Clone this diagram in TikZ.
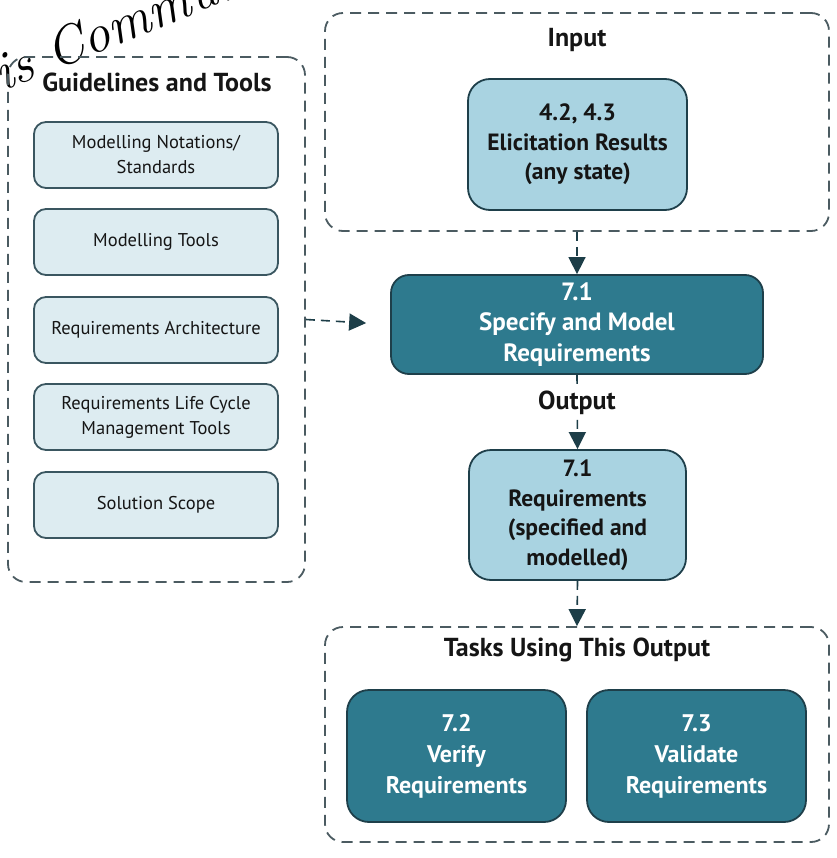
\documentclass[tikz,border=0pt]{standalone}
\usepackage{fontspec}
\setmainfont{PT Sans}
\usetikzlibrary{arrows.meta}
\definecolor{teal}{HTML}{2E7A8E}
\definecolor{tealline}{HTML}{1E3F4A}
\definecolor{lightblue}{HTML}{A9D3E1}
\definecolor{toolfill}{HTML}{DDECF1}
\definecolor{boxline}{HTML}{3A5660}
\definecolor{dashline}{HTML}{4B5B61}
\definecolor{arrowcol}{HTML}{1D3E48}
\definecolor{textdark}{HTML}{151515}
\tikzset{
  container/.style={draw=dashline, line width=1.8pt, dash pattern=on 11pt off 7pt, rounded corners=18pt},
  tool/.style={draw=boxline, fill=toolfill, line width=1.8pt, rounded corners=12pt, minimum width=244pt, minimum height=66pt, align=center, text=textdark, font=\fontsize{18.5}{25}\selectfont},
  lightbox/.style={draw=tealline, fill=lightblue, line width=1.8pt, rounded corners=22pt, align=center, text=textdark, font=\bfseries\fontsize{23.5}{29.5}\selectfont},
  darkbox/.style={draw=tealline, fill=teal, line width=1.8pt, rounded corners=18pt, align=center, text=white, font=\bfseries\fontsize{24}{31}\selectfont},
  title/.style={text=textdark, font=\bfseries\fontsize{26}{30}\selectfont},
  conn/.style={draw=arrowcol, line width=1.6pt, dash pattern=on 9pt off 6pt, -{Triangle[width=17pt,length=17pt]}},
}
\begin{document}
\begin{tikzpicture}[x=1pt,y=1pt]
\useasboundingbox (0,0) rectangle (836,-858);
% watermark
\begin{scope}
\clip (0,0) rectangle (836,-858);
\node[anchor=base west, rotate=22, inner sep=0pt, font=\itshape\fontsize{54}{54}\selectfont, text=black] (wm) at (-18,-100) {\fontspec{Latin Modern Roman}sis Community};
\end{scope}
% containers
\node[container, minimum width=297pt, minimum height=525pt] (guide) at (156.5,-319.5) {};
\node[container, minimum width=504pt, minimum height=218pt] (input) at (577,-122) {};
\node[container, minimum width=504pt, minimum height=215pt] (tasks) at (577,-734.5) {};
% titles
\node[title] (tguide) at (157,-82) {Guidelines and Tools};
\node[title] (tinput) at (577,-40) {Input};
\node[title] (ttasks) at (577,-650) {Tasks Using This Output};
% tools
\node[tool] (t1) at (156,-155) {Modelling Notations/\\Standards};
\node[tool] (t2) at (156,-242) {Modelling Tools};
\node[tool] (t3) at (156,-330) {Requirements Architecture};
\node[tool] (t4) at (156,-417) {Requirements Life Cycle\\Management Tools};
\node[tool] (t5) at (156,-505) {Solution Scope};
% main boxes
\node[lightbox, minimum width=219pt, minimum height=131pt] (elic) at (577.5,-144.5) {4.2, 4.3\\Elicitation Results\\(any state)};
\node[darkbox, font=\bfseries\fontsize{25}{30.5}\selectfont, minimum width=372pt, minimum height=99pt] (spec) at (577,-324.5) {7.1\\Specify and Model\\Requirements};
\node[lightbox, minimum width=217pt, minimum height=130pt] (req) at (577.5,-515) {7.1\\Requirements\\(specified and\\modelled)};
\node[darkbox, rounded corners=22pt, minimum width=219pt, minimum height=132pt] (verify) at (456.5,-756) {7.2\\Verify\\Requirements};
\node[darkbox, rounded corners=22pt, minimum width=219pt, minimum height=132pt] (validate) at (696.5,-756) {7.3\\Validate\\Requirements};
% connectors
\draw[conn] (input.south) -- (spec.north);
\draw[conn, shorten >=24pt] (guide.east) -- (spec.west);
\draw[conn] (spec.south) -- (req.north);
\node[title, fill=white, inner sep=2pt] (tout) at (577,-403) {Output};
\draw[conn] (req.south) -- (tasks.north);
\end{tikzpicture}
\end{document}
